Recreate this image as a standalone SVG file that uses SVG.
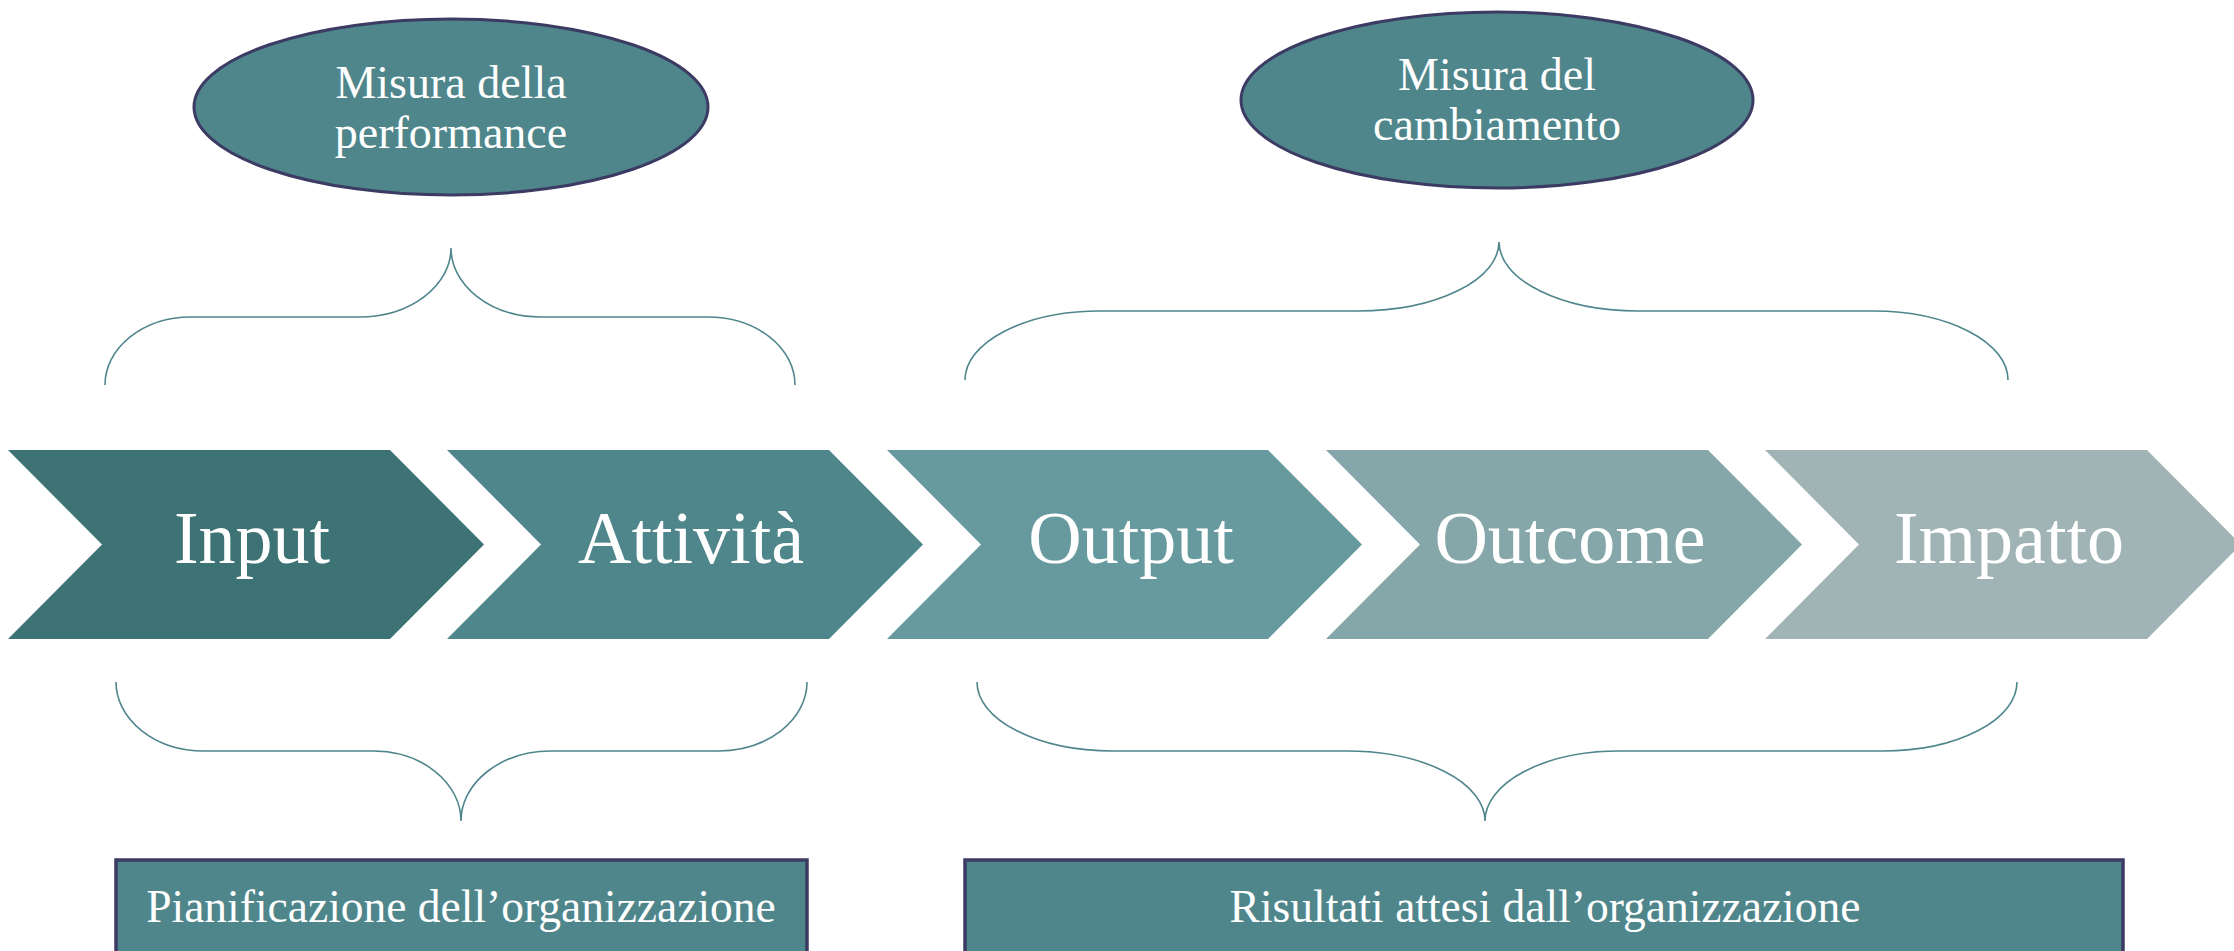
<svg xmlns="http://www.w3.org/2000/svg" width="2234" height="951" viewBox="0 0 2234 951">
<style>
.t{font-family:"Liberation Serif","Times New Roman",serif;fill:#ffffff;text-anchor:middle}
.oval{fill:#4F868C;stroke:#3B3B63;stroke-width:3}
.box{fill:#4F868C;stroke:#3B3B63;stroke-width:3.5}
.brace{fill:none;stroke:#4F868C;stroke-width:1.6}
.ct{font-size:74px}
.ot{font-size:46px}
.bt{font-size:45.5px}
</style>
<rect width="2234" height="951" fill="#ffffff"/>
<g id="oval-performance">
<ellipse class="oval" cx="451" cy="107" rx="257" ry="88"/>
<text class="t ot" x="451" y="98">Misura della</text>
<text class="t ot" x="451" y="148">performance</text>
</g>
<g id="oval-cambiamento">
<ellipse class="oval" cx="1497" cy="100" rx="256" ry="88"/>
<text class="t ot" x="1497" y="90">Misura del</text>
<text class="t ot" x="1497" y="140">cambiamento</text>
</g>
<g id="connectors">
<path class="brace" d="M105,385 A86,68 0 0 1 191,317 H359 A92,69 0 0 0 451,248 A90,69 0 0 0 541,317 H708 A87,68 0 0 1 795,385"/>
<path class="brace" d="M965,380 A135,69 0 0 1 1100,311 H1358 A141,69 0 0 0 1499,242 A139,69 0 0 0 1638,311 H1873 A135,69 0 0 1 2008,380"/>
<path class="brace" d="M116,682 A88,69 0 0 0 204,751 H373 A88,70 0 0 1 461,821 A90,70 0 0 1 551,751 H718 A89,69 0 0 0 807,682"/>
<path class="brace" d="M977,682 A136,69 0 0 0 1113,751 H1347 A138,70 0 0 1 1485,821 A134,70 0 0 1 1619,751 H1883 A134,69 0 0 0 2017,682"/>
</g>
<g id="step-input">
<polygon points="8,450 390,450 484,544.5 390,639 8,639 102,544.5" fill="#3E7376"/>
<text class="t ct" x="252" y="563">Input</text>
</g>
<g id="step-attivita">
<polygon points="447,450 829,450 923,544.5 829,639 447,639 541,544.5" fill="#4F868C"/>
<text class="t ct" x="691" y="563">Attività</text>
</g>
<g id="step-output">
<polygon points="887,450 1268,450 1362,544.5 1268,639 887,639 981,544.5" fill="#679A9F"/>
<text class="t ct" x="1131" y="563">Output</text>
</g>
<g id="step-outcome">
<polygon points="1326,450 1708,450 1802,544.5 1708,639 1326,639 1420,544.5" fill="#85A7A9"/>
<text class="t ct" x="1570" y="563">Outcome</text>
</g>
<g id="step-impatto">
<polygon points="1765,450 2147,450 2241,544.5 2147,639 1765,639 1859,544.5" fill="#A0B4B6"/>
<text class="t ct" x="2009" y="563">Impatto</text>
</g>
<g id="box-pianificazione">
<rect class="box" x="116" y="860" width="691" height="110"/>
<text class="t bt" x="461" y="922">Pianificazione dell’organizzazione</text>
</g>
<g id="box-risultati">
<rect class="box" x="965" y="860" width="1158" height="110"/>
<text class="t bt" x="1545" y="922">Risultati attesi dall’organizzazione</text>
</g>
</svg>
